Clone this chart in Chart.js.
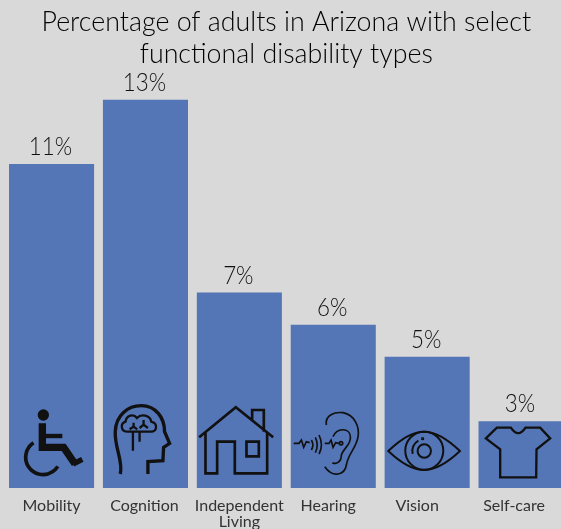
<!DOCTYPE html>
<html>
<head>
<meta charset="utf-8">
<style>
  html, body { margin: 0; padding: 0; background: #d9d9d9; overflow: hidden; }
  #wrap { width: 561px; height: 529px; overflow: hidden; }
</style>
<script src="https://cdn.jsdelivr.net/npm/chart.js@4"></script>
</head>
<body>
<div id="wrap"><canvas id="chart" width="568" height="529"></canvas></div>
<script>
const categories = ["Mobility", "Cognition", ["Independent", "Living"], "Hearing", "Vision", "Self-care"];
const percents = [11, 13, 7, 6, 5, 3];
const titleLines = ["Percentage of adults in Arizona with select", "functional disability types"];

const FONT = "Lato, 'Open Sans', sans-serif";
const BAR_COLOR = "#5475b6";
// the labels in the picture drift left of their bars
const tickNudge = [0, -1, 0, -5, -10, -7];

// Icons are traced in 3x zoom coordinates, left = bar's left edge in that zoom
const icons = [
  { left: 28, draw(c) {
    c.lineWidth = 22;
    c.beginPath(); c.arc(131, 75, 17, 0, Math.PI * 2); c.fill();
    c.beginPath(); c.moveTo(128, 100); c.lineTo(128, 172); c.lineTo(192, 172); c.lineTo(226, 222); c.stroke();
    c.lineWidth = 16;
    c.beginPath(); c.moveTo(220, 222); c.lineTo(248, 208); c.stroke();
    c.lineWidth = 13;
    c.beginPath(); c.moveTo(131, 138); c.lineTo(188, 138); c.stroke();
    c.lineWidth = 11;
    c.beginPath(); c.arc(130, 202, 52, -2.15, 0.55, true); c.stroke();
  }},
  { left: 310, draw(c) {
    c.lineWidth = 10;
    c.stroke(new Path2D("M362 252 C372 215 345 175 347 125 C349 75 385 47 425 47 C470 47 495 85 495 125 L510 160 L492 172 L490 212 L445 215 L445 252"));
    c.lineWidth = 7;
    c.stroke(new Path2D("M385 125 C362 125 362 100 378 95 C380 76 402 70 412 84 C425 70 452 76 455 95 C476 100 472 125 455 125 Z M400 125 L400 182 M420 125 L420 155 M402 98 L402 110 L390 118 M402 110 L413 118 M432 90 L432 104 L420 114 M432 104 L445 114"));
  }},
  { left: 591, draw(c) {
    c.lineWidth = 8;
    c.stroke(new Path2D("M598 142 L708 52 L820 142 M757 92 L757 60 L792 60 L792 125 M617 128 L617 250 L652 250 L652 155 L705 155 L705 250 L802 250 L802 128 M740 155 L777 155 L777 199 L740 199 Z"));
  }},
  { left: 33, draw(c) {
    c.lineWidth = 5;
    c.stroke(new Path2D("M140 105 C135 75 165 65 190 68 C225 75 240 110 235 140 C230 175 205 190 200 225 C195 255 160 265 135 230 M160 140 C170 115 210 110 212 140 C215 165 190 175 185 195 C185 215 170 225 158 218 M42 160 L58 160 L65 150 L72 172 L80 155 L90 158 M95 150 Q104 165 95 180 M107 142 Q118 165 107 188 M118 135 Q132 165 118 192 M135 160 L148 160 L154 150 L160 172 L168 158 L178 160"));
    c.beginPath(); c.arc(184, 160, 5, 0, Math.PI * 2); c.stroke();
  }},
  { left: 314, draw(c) {
    c.lineWidth = 6;
    c.stroke(new Path2D("M325 183 Q385 125 432 125 Q480 125 540 183 Q480 240 432 240 Q385 240 325 183 Z"));
    c.beginPath(); c.arc(433, 182, 57, 0, Math.PI * 2); c.stroke();
    c.beginPath(); c.arc(433, 183, 20, 0, Math.PI * 2); c.stroke();
    c.beginPath(); c.arc(433, 183, 36, 2.9, 4.2); c.stroke();
    c.beginPath(); c.arc(428, 146, 2, 0, Math.PI * 2); c.stroke();
  }},
  { left: 595, draw(c) {
    c.lineWidth = 7;
    c.stroke(new Path2D("M692 113 Q714 146 736 113 L780 113 L810 145 L769 178 L768 262 L660 262 L660 178 L617 145 L650 113 Z"));
  }}
];

const overlay = {
  id: "overlay",
  beforeDraw(chart) {
    chart.scales.x.getLabelItems().forEach((item, i) => {
      if (!item.nudged) {
        item.options.translation[0] += tickNudge[i];
        item.nudged = true;
      }
    });
  },
  afterDatasetsDraw(chart) {
    const c = chart.ctx;
    const base = chart.scales.y.bottom;
    chart.getDatasetMeta(0).data.forEach((bar, i) => {
      // value labels
      c.save();
      c.translate(bar.x - 1, bar.y - 9);
      c.scale(0.86, 1);
      c.fillStyle = "#111";
      c.font = "300 26px " + FONT;
      c.textAlign = "center";
      c.textBaseline = "alphabetic";
      c.fillText(percents[i] + "%", 0, 0);
      c.restore();

      // icon at foot of bar
      c.save();
      c.translate(bar.x - bar.width / 2, base);
      c.scale(1 / 3, 1 / 3);
      c.translate(-icons[i].left, -294);
      c.strokeStyle = "#111";
      c.fillStyle = "#111";
      icons[i].draw(c);
      c.restore();
    });
  }
};

new Chart(document.getElementById("chart"), {
  type: "bar",
  data: {
    labels: categories,
    datasets: [{
      data: percents,
      backgroundColor: BAR_COLOR,
      categoryPercentage: 1,
      barPercentage: 0.906
    }]
  },
  options: {
    responsive: false,
    animation: false,
    layout: { padding: { left: 4.6, right: 0, top: 0, bottom: 0 } },
    plugins: {
      legend: { display: false },
      tooltip: { enabled: false },
      title: {
        display: true,
        text: titleLines,
        color: "#000",
        font: { family: FONT, size: 26.8, weight: "300", lineHeight: 1.17 },
        padding: { top: 7, bottom: 3 }
      }
    },
    scales: {
      x: {
        grid: { display: false },
        border: { display: false },
        afterFit(scale) { scale.height = 41; },
        ticks: {
          color: "#333",
          font: { family: FONT, size: 16, lineHeight: 1 },
          padding: 2,
          maxRotation: 0,
          autoSkip: false
        }
      },
      y: {
        display: false,
        min: 0.92,
        max: 13.84
      }
    }
  },
  plugins: [overlay]
});
</script>
</body>
</html>
